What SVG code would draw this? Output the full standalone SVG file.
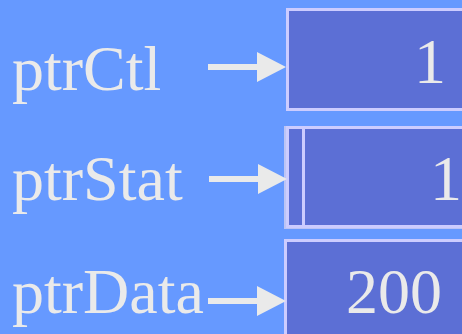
<svg xmlns="http://www.w3.org/2000/svg" width="462" height="334" viewBox="0 0 462 334">
<style>
.lbl{font-family:"Liberation Serif","Times New Roman",serif;font-size:64px;fill:#EAEAEA}
.box{fill:#5C6FD5;stroke:#CCCCFF;stroke-width:3}
.arr{fill:#EAEAEA}
</style>
<defs>
<polygon id="arrow" points="0,-3 49,-3 49,-15 78,0 49,15 49,3 0,3"/>
</defs>
<rect x="0" y="0" width="462" height="334" fill="#6699FF"/>
<g id="ctl">
<text class="lbl" x="12" y="90">ptrCtl</text>
<rect class="box" x="287.5" y="9.5" width="190" height="100"/>
<text class="lbl" x="414" y="83">1</text>
</g>
<g id="stat">
<text class="lbl" x="12" y="200">ptrStat</text>
<rect x="284" y="126" width="190" height="103" fill="#BBC4F5"/>
<rect class="box" x="287.5" y="127.5" width="190" height="99"/>
<line x1="303.5" y1="129" x2="303.5" y2="225" stroke="#CCCCFF" stroke-width="3"/>
<text class="lbl" x="430" y="200">1</text>
</g>
<g id="data">
<text class="lbl" x="12" y="313">ptrData</text>
<rect class="box" x="285.5" y="240.5" width="190" height="110"/>
<text class="lbl" x="346" y="313">200</text>
</g>
<g id="connectors">
<use href="#arrow" class="arr" x="208" y="67"/>
<use href="#arrow" class="arr" x="209" y="179"/>
<use href="#arrow" class="arr" x="208" y="301"/>
</g>
</svg>
